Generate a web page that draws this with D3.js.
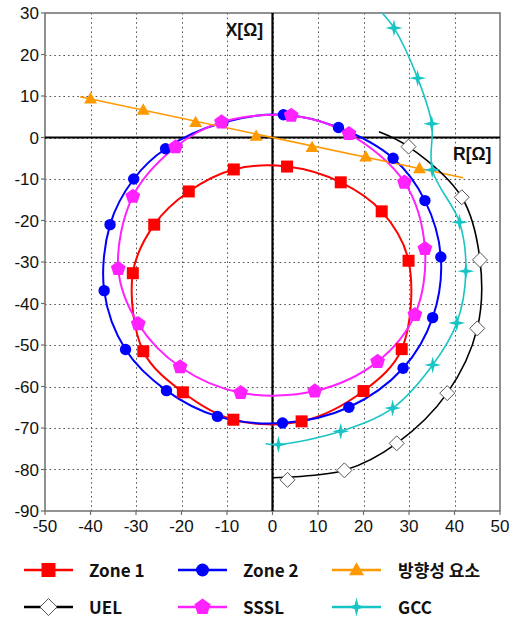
<!DOCTYPE html>
<html><head><meta charset="utf-8">
<script src="https://cdn.jsdelivr.net/npm/d3@7"></script>
<style>html,body{margin:0;padding:0;background:#fff;}svg{display:block;}</style>
</head><body>
<svg id="c" width="518" height="618"></svg>
<script>
// ---- data (R, X in ohms) ----
const xTicks = [-50,-40,-30,-20,-10,0,10,20,30,40,50];
const yTicks = [30,20,10,0,-10,-20,-30,-40,-50,-60,-70,-80,-90];
const seriesNames = ["Zone 1","Zone 2","방향성 요소","UEL","SSSL","GCC"];

const zone1R = [3.2, 15.0, 24.0, 29.9, 28.4, 20.0, 6.4, -8.6, -19.7, -28.4, -30.7, -26.0, -18.4, -8.5];
const zone1X = [-7.0, -10.8, -17.8, -29.7, -51.0, -61.1, -68.4, -68.0, -61.4, -51.5, -32.7, -21.0, -13.0, -7.7];

const zone2R = [2.4, 14.5, 26.5, 33.5, 37.0, 35.2, 28.7, 16.8, 2.2, -12.1, -23.3, -32.3, -37.0, -35.7, -30.5, -23.5, -10.9];
const zone2X = [5.5, 2.4, -5.0, -15.2, -28.8, -43.4, -55.6, -65.0, -68.8, -67.2, -61.0, -51.1, -36.9, -21.0, -10.0, -2.7, 3.6];

const dirR = [-40.0, -28.4, -16.9, -3.6, 8.7, 20.5, 32.3];
const dirX = [9.3, 6.6, 3.6, 0.3, -2.4, -4.7, -7.5];
const dirLineR = [-42.3, 41.9];
const dirLineX = [9.8, -9.7];

const uelR = [29.9, 41.6, 45.6, 45.0, 38.4, 27.3, 15.8, 3.3];
const uelX = [-2.2, -14.4, -29.5, -46.0, -61.6, -73.7, -80.2, -82.5];
const uelLineR = [23.4, 29.9, 41.6, 45.6, 45.0, 38.4, 27.3, 15.8, 0.0];
const uelLineX = [1.4, -2.2, -14.4, -29.5, -46.0, -61.6, -73.7, -80.2, -82.0];

const ssslR = [4.1, 16.8, 29.0, 33.5, 31.3, 23.1, 9.3, -7.0, -20.3, -29.5, -33.9, -30.7, -21.3, -11.2];
const ssslX = [5.3, 0.9, -10.8, -26.8, -42.7, -54.0, -61.1, -61.5, -55.3, -44.9, -31.6, -14.2, -2.3, 3.7];

const gccR = [26.7, 31.9, 35.0, 35.1, 41.1, 42.5, 40.5, 35.2, 26.4, 15.0, 1.3];
const gccX = [26.4, 14.3, 3.3, -7.8, -20.4, -32.2, -44.7, -54.8, -65.2, -70.8, -74.0];
const gccLineR = [24.1, 26.7, 31.9, 35.0, 35.1, 41.1, 42.5, 40.5, 35.2, 26.4, 15.0, 1.3, -1.5];
const gccLineX = [30.0, 26.4, 14.3, 3.3, -7.8, -20.4, -32.2, -44.7, -54.8, -65.2, -70.8, -74.0, -73.8];

// ---- layout ----
const L = 45, R = 500, T = 13, B = 511;
const svg = d3.select("#c");
const x = d3.scaleLinear().domain([-50, 50]).range([L, R]);
const y = d3.scaleLinear().domain([-90, 30]).range([B, T]);
const zip = (a, b) => a.map((v, i) => [v, b[i]]);

// markers
const pentagon = s => { const r = s; let p = []; for (let i = 0; i < 5; i++) { const a = -Math.PI/2 + i*2*Math.PI/5; p.push([r*Math.cos(a), r*Math.sin(a)]); } return "M" + p.map(q => q.join(",")).join("L") + "Z"; };
const star4 = s => { const a = s, b = s*0.2; return `M0,${-a}L${b},${-b}L${a},0L${b},${b}L0,${a}L${-b},${b}L${-a},0L${-b},${-b}Z`; };
const diamond = s => `M0,${-s}L${s},0L0,${s}L${-s},0Z`;
const square = s => `M${-s},${-s}H${s}V${s}H${-s}Z`;
const triangle = s => `M0,${-s*1.05}L${s},${s*0.7}L${-s},${s*0.7}Z`;
const circle = s => `M${s},0A${s},${s} 0 1,1 ${-s},0A${s},${s} 0 1,1 ${s},0Z`;

// grid
const grid = svg.append("g").attr("stroke", "#555").attr("stroke-width", 1).attr("stroke-dasharray", "1.6,3");
grid.selectAll("line.v").data(xTicks.filter(d => d > -50 && d < 50)).join("line")
  .attr("x1", d => Math.round(x(d)) + 0.5).attr("x2", d => Math.round(x(d)) + 0.5).attr("y1", T).attr("y2", B);
grid.selectAll("line.h").data(yTicks.filter(d => d > -90 && d < 30)).join("line")
  .attr("y1", d => Math.round(y(d)) + 0.5).attr("y2", d => Math.round(y(d)) + 0.5).attr("x1", L).attr("x2", R);

// frame
svg.append("rect").attr("x", L).attr("y", T).attr("width", R - L).attr("height", B - T)
  .attr("fill", "none").attr("stroke", "#6e6e6e").attr("stroke-width", 1.5);

// tick marks + labels
const tickFont = "'Liberation Sans', Arial, sans-serif";
svg.append("g").selectAll("line").data(yTicks).join("line")
  .attr("x1", L - 4).attr("x2", L).attr("y1", d => y(d)).attr("y2", d => y(d)).attr("stroke", "#6e6e6e").attr("stroke-width", 1.2);
svg.append("g").selectAll("line").data(xTicks).join("line")
  .attr("y1", B).attr("y2", B + 4).attr("x1", d => x(d)).attr("x2", d => x(d)).attr("stroke", "#6e6e6e").attr("stroke-width", 1.2);
svg.append("g").selectAll("text").data(yTicks).join("text")
  .attr("x", 39).attr("y", d => y(d) + 6).attr("text-anchor", "end")
  .attr("font-family", tickFont).attr("font-size", 17).attr("fill", "#111").text(d => d);
svg.append("g").selectAll("text").data(xTicks).join("text")
  .attr("x", d => x(d)).attr("y", 532).attr("text-anchor", "middle")
  .attr("font-family", tickFont).attr("font-size", 17).attr("fill", "#111").text(d => d);

// zero axes
svg.append("line").attr("x1", x(0)).attr("x2", x(0)).attr("y1", T).attr("y2", B).attr("stroke", "#000").attr("stroke-width", 2.2);
svg.append("line").attr("x1", L).attr("x2", R).attr("y1", y(0)).attr("y2", y(0)).attr("stroke", "#000").attr("stroke-width", 2.2);

// axis titles
svg.append("text").attr("x", 263).attr("y", 36).attr("text-anchor", "end")
  .attr("font-family", tickFont).attr("font-weight", "bold").attr("font-size", 17.5).attr("fill", "#111").text("X[Ω]");
svg.append("text").attr("x", 453).attr("y", 160)
  .attr("font-family", tickFont).attr("font-weight", "bold").attr("font-size", 17.5).attr("fill", "#111").text("R[Ω]");

// clip
svg.append("clipPath").attr("id", "plot").append("rect").attr("x", L).attr("y", T).attr("width", R - L).attr("height", B - T);
const lines = svg.append("g").attr("clip-path", "url(#plot)");
const marks = svg.append("g");

const closed = d3.line().x(d => x(d[0])).y(d => y(d[1])).curve(d3.curveCatmullRomClosed.alpha(0.5));
const open = d3.line().x(d => x(d[0])).y(d => y(d[1])).curve(d3.curveCatmullRom.alpha(0.5));
const straight = d3.line().x(d => x(d[0])).y(d => y(d[1]));

const colors = {z1: "#ff0000", z2: "#0000ff", dir: "#ff9900", uel: "#000000", sssl: "#ff22ff", gcc: "#19c4c4"};

lines.append("path").attr("d", closed(zip(zone1R, zone1X))).attr("fill", "none").attr("stroke", colors.z1).attr("stroke-width", 2);
lines.append("path").attr("d", closed(zip(zone2R, zone2X))).attr("fill", "none").attr("stroke", colors.z2).attr("stroke-width", 2);
lines.append("path").attr("d", closed(zip(ssslR, ssslX))).attr("fill", "none").attr("stroke", colors.sssl).attr("stroke-width", 2);
lines.append("path").attr("d", straight(zip(dirLineR, dirLineX))).attr("fill", "none").attr("stroke", colors.dir).attr("stroke-width", 1.6);
lines.append("path").attr("d", open(zip(uelLineR, uelLineX))).attr("fill", "none").attr("stroke", colors.uel).attr("stroke-width", 1.6);
lines.append("path").attr("d", open(zip(gccLineR, gccLineX))).attr("fill", "none").attr("stroke", colors.gcc).attr("stroke-width", 1.6);

function drawMarks(rs, xs, pathFn, fill, stroke, sw) {
  marks.append("g").selectAll("path").data(zip(rs, xs)).join("path")
    .attr("transform", d => `translate(${x(d[0])},${y(d[1])})`)
    .attr("d", pathFn).attr("fill", fill).attr("stroke", stroke).attr("stroke-width", sw);
}
drawMarks(zone1R, zone1X, () => square(6), colors.z1, "none", 0);
drawMarks(zone2R, zone2X, () => circle(5.7), colors.z2, "none", 0);
drawMarks(dirR, dirX, () => triangle(6.5), colors.dir, "none", 0);
drawMarks(uelR, uelX, () => diamond(7.5), "#fff", "#555", 1);
drawMarks(ssslR, ssslX, () => pentagon(7.8), colors.sssl, "none", 0);
drawMarks(gccR, gccX, () => star4(8.5), colors.gcc, "none", 0);

// legend
const legend = [
  {name: seriesNames[0], c: colors.z1, m: () => square(7), f: colors.z1, s: "none", lx: 24, tx: 89, ly: 570},
  {name: seriesNames[1], c: colors.z2, m: () => circle(6.5), f: colors.z2, s: "none", lx: 178, tx: 243, ly: 570},
  {name: seriesNames[2], c: colors.dir, m: () => triangle(7.5), f: colors.dir, s: "none", lx: 332, tx: 398, ly: 570},
  {name: seriesNames[3], c: colors.uel, m: () => diamond(8.5), f: "#fff", s: "#555", lx: 24, tx: 89, ly: 607},
  {name: seriesNames[4], c: colors.sssl, m: () => pentagon(8.5), f: colors.sssl, s: "none", lx: 178, tx: 243, ly: 607},
  {name: seriesNames[5], c: colors.gcc, m: () => star4(9.5), f: colors.gcc, s: "none", lx: 332, tx: 398, ly: 607}
];
const lg = svg.append("g").selectAll("g").data(legend).join("g");
lg.append("line").attr("x1", d => d.lx).attr("x2", d => d.lx + 49).attr("y1", d => d.ly).attr("y2", d => d.ly)
  .attr("stroke", d => d.c).attr("stroke-width", 2.5);
lg.append("path").attr("transform", d => `translate(${d.lx + 24.5},${d.ly})`).attr("d", d => d.m())
  .attr("fill", d => d.f).attr("stroke", d => d.s).attr("stroke-width", 1);
lg.append("text").attr("x", d => d.tx).attr("y", d => d.ly + 6.5)
  .attr("font-family", "'Noto Sans CJK KR', 'Noto Sans', sans-serif").attr("font-weight", "bold").attr("font-size", 17)
  .attr("fill", "#111").text(d => d.name);
</script>
</body></html>
